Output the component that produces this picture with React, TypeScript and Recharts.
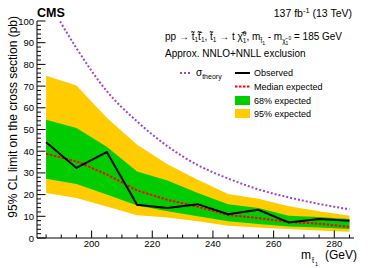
import React from "react";
import {
  ComposedChart,
  Area,
  Line,
  XAxis,
  YAxis,
} from "recharts";

/* ---------- data ---------- */
const masses = [185, 195, 205, 215, 225, 235, 245, 255, 265, 275, 285];
const observed = [44.1, 32.3, 39.6, 15.3, 13.8, 15.6, 11.0, 13.0, 7.2, 8.7, 8.0];
const expected = [38.8, 35.3, 29.3, 21.9, 17.6, 14.4, 10.6, 9.2, 7.4, 6.6, 5.1];
const band68Lo = [27.3, 24.9, 20.0, 15.0, 12.3, 10.0, 7.7, 6.4, 5.3, 4.8, 4.1];
const band68Hi = [54.5, 50.7, 42.0, 30.7, 26.5, 20.7, 15.5, 13.8, 10.3, 9.7, 8.8];
const band95Lo = [20.7, 18.4, 14.5, 10.5, 9.5, 7.7, 5.7, 4.8, 4.1, 3.5, 2.9];
const band95Hi = [74.8, 70.3, 55.4, 43.0, 34.0, 26.9, 20.3, 18.1, 14.6, 12.3, 10.3];
const theory = [111, 87.5, 67.7, 53.7, 42.3, 33.6, 27.4, 22.4, 18.7, 15.7, 13.2];

const yTicks = Array.from({ length: 51 }, (_, i) => i * 2);
const xTicks = Array.from({ length: 21 }, (_, i) => 185 + i * 5);

const rows = masses.map((m, i) => ({
  m,
  obs: observed[i],
  exp: expected[i],
  b68: [band68Lo[i], band68Hi[i]],
  b95: [band95Lo[i], band95Hi[i]],
  theory: theory[i],
}));

const FONT = "'Liberation Sans', Arial, Helvetica, sans-serif";
const W = 374;
const H = 268;

/* ---------- custom ticks (ROOT style, inward) ---------- */
const LeftTick = (p: any) => {
  const v = p.payload.value;
  const major = v % 10 === 0;
  return (
    <g>
      <line x1={p.x} x2={p.x + (major ? 8.5 : 4)} y1={p.y} y2={p.y} stroke="#000" />
      {major && (
        <text x={p.x - 3} y={p.y} textAnchor="end" dominantBaseline="central" fontSize={9.5} fontFamily={FONT} fill="#000">
          {v}
        </text>
      )}
    </g>
  );
};

const RightTick = (p: any) => {
  const v = p.payload.value;
  const major = v % 10 === 0;
  return <line x1={p.x} x2={p.x - (major ? 8.5 : 4)} y1={p.y} y2={p.y} stroke="#000" />;
};

const BottomTick = (p: any) => {
  const v = p.payload.value;
  const major = v % 20 === 0;
  return (
    <g>
      <line x1={p.x} x2={p.x} y1={p.y} y2={p.y - (major ? 7.5 : 3.5)} stroke="#000" />
      {major && (
        <text x={p.x} y={p.y + 8.5} textAnchor="middle" fontSize={9.5} fontFamily={FONT} fill="#000">
          {v}
        </text>
      )}
    </g>
  );
};

const TopTick = (p: any) => {
  const v = p.payload.value;
  const major = v % 20 === 0;
  return <line x1={p.x} x2={p.x} y1={p.y} y2={p.y + (major ? 7.5 : 3.5)} stroke="#000" />;
};

/* ---------- overlay texts and legend ---------- */
const Overlay = () => (
  <svg width={W} height={H} style={{ position: "absolute", left: 0, top: 0, pointerEvents: "none" }} fontFamily={FONT}>
    <text x={37} y={17} fontSize={12.5} fontWeight="bold">CMS</text>
    <text x={352} y={17} fontSize={10.5} textAnchor="end">
      137 fb<tspan dy={-4} fontSize={7.5}>-1</tspan>
      <tspan dy={4}> (13 TeV)</tspan>
    </text>

    <text transform="translate(16.5,16) rotate(-90)" textAnchor="end" fontSize={12}>
      95% CL limit on the cross section (pb)
    </text>

    {/* x-axis title, pieces placed side by side */}
    <text x={301} y={259} fontSize={12}>m</text>
    <text x={312} y={263} fontSize={7.5}>t̃</text>
    <text x={315} y={266} fontSize={5.5}>1</text>
    <text x={357} y={259} textAnchor="end" fontSize={12}>(GeV)</text>

    <text x={165} y={40} fontSize={10}>
      pp → t̃<tspan dy={2} fontSize={6.5}>1</tspan>
      <tspan dy={-2}>t̃̄</tspan>
      <tspan dy={2} fontSize={6.5}>1</tspan>
      <tspan dy={-2}>, t̃</tspan>
      <tspan dy={2} fontSize={6.5}>1</tspan>
      <tspan dy={-2}> → t χ̃̄</tspan>
      <tspan dy={-4} fontSize={6.5}>0</tspan>
      <tspan dx={-3.6} dy={7} fontSize={6.5}>1</tspan>
      <tspan dy={-3}>, m</tspan>
      <tspan dy={3} fontSize={6.5}>t̃</tspan>
      <tspan dy={1.5} fontSize={5}>1</tspan>
      <tspan dy={-4.5}> - m</tspan>
      <tspan dy={3} fontSize={6.5}>χ̃</tspan>
      <tspan dy={1.5} fontSize={5}>1</tspan>
      <tspan dy={-5} fontSize={5}>0</tspan>
      <tspan dy={0.5}> = 185 GeV</tspan>
    </text>
    <text x={165} y={57} fontSize={10}>Approx. NNLO+NNLL exclusion</text>

    <line x1={180} x2={192} y1={73} y2={73} stroke="#9A45D6" strokeWidth={2} strokeDasharray="2 2" />
    <text x={196} y={76} fontSize={10}>
      σ<tspan dy={3} fontSize={7}>theory</tspan>
    </text>

    <line x1={235} x2={250} y1={73} y2={73} stroke="#000" strokeWidth={2} />
    <text x={254} y={76} fontSize={9}>Observed</text>

    <line x1={235} x2={250} y1={86.5} y2={86.5} stroke="#FF0000" strokeWidth={2} strokeDasharray="2.5 1.5" />
    <text x={254} y={89.5} fontSize={9}>Median expected</text>

    <rect x={235} y={96} width={15} height={9} fill="#00CC00" />
    <text x={254} y={103.5} fontSize={9}>68% expected</text>

    <rect x={235} y={109} width={15} height={9} fill="#FFCC00" />
    <text x={254} y={116.5} fontSize={9}>95% expected</text>
  </svg>
);

/* ---------- chart ---------- */
export default function App() {
  return (
    <div style={{ position: "absolute", left: 0, top: 0, width: W, height: H, background: "#fff" }}>
      <ComposedChart
        width={W}
        height={H}
        data={rows}
        margin={{ top: 21, right: 20, bottom: 0, left: 0 }}
      >
        <XAxis
          dataKey="m"
          type="number"
          domain={[182, 286.5]}
          ticks={xTicks}
          interval={0}
          height={30}
          tickSize={0}
          tickMargin={0}
          tickLine={false}
          tick={<BottomTick />}
          axisLine={{ stroke: "#000" }}
          allowDataOverflow
        />
        <XAxis
          xAxisId="top"
          dataKey="m"
          type="number"
          orientation="top"
          domain={[182, 286.5]}
          ticks={xTicks}
          interval={0}
          height={0}
          tickSize={0}
          tickMargin={0}
          tickLine={false}
          tick={<TopTick />}
          axisLine={{ stroke: "#000" }}
          allowDataOverflow
        />
        <YAxis
          type="number"
          domain={[0, 100]}
          ticks={yTicks}
          interval={0}
          width={37}
          tickSize={0}
          tickMargin={0}
          tickLine={false}
          tick={<LeftTick />}
          axisLine={{ stroke: "#000" }}
          allowDataOverflow
        />
        <YAxis
          yAxisId="right"
          type="number"
          orientation="right"
          domain={[0, 100]}
          ticks={yTicks}
          interval={0}
          width={0}
          tickSize={0}
          tickMargin={0}
          tickLine={false}
          tick={<RightTick />}
          axisLine={{ stroke: "#000" }}
          allowDataOverflow
        />
        <Area
          type="linear"
          dataKey="b95"
          fill="#FFCC00"
          fillOpacity={1}
          stroke="none"
          isAnimationActive={false}
        />
        <Area
          type="linear"
          dataKey="b68"
          fill="#00CC00"
          fillOpacity={1}
          stroke="none"
          isAnimationActive={false}
        />
        <Line
          type="monotone"
          dataKey="theory"
          stroke="#9A45D6"
          strokeWidth={2}
          strokeDasharray="2 2"
          dot={false}
          isAnimationActive={false}
        />
        <Line
          type="linear"
          dataKey="exp"
          stroke="#FF0000"
          strokeWidth={2}
          strokeDasharray="2.5 1.5"
          dot={false}
          isAnimationActive={false}
        />
        <Line
          type="linear"
          dataKey="obs"
          stroke="#000"
          strokeWidth={2}
          dot={false}
          isAnimationActive={false}
        />
      </ComposedChart>
      <Overlay />
    </div>
  );
}
